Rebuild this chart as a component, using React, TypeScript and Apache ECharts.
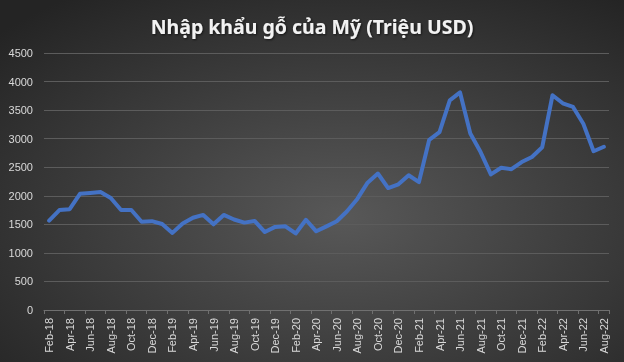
import React, { useEffect, useRef } from "react";
import * as echarts from "echarts";

const monthNames = ["Jan", "Feb", "Mar", "Apr", "May", "Jun", "Jul", "Aug", "Sep", "Oct", "Nov", "Dec"];
const years = [18, 19, 20, 21, 22];

const categories: string[] = [];
years.forEach((y) => {
  monthNames.forEach((m, mi) => {
    if (y === 18 && mi < 1) return;
    if (y === 22 && mi > 7) return;
    categories.push(`${m}-${y}`);
  });
});

const imports2018 = [1565, 1750, 1765, 2035, 2050, 2065, 1960, 1750, 1750, 1545, 1555];
const imports2019 = [1505, 1350, 1515, 1615, 1665, 1500, 1665, 1585, 1530, 1560, 1365, 1455];
const imports2020 = [1465, 1340, 1580, 1378, 1465, 1555, 1730, 1945, 2230, 2390, 2135, 2200];
const imports2021 = [2360, 2240, 2980, 3115, 3670, 3810, 3090, 2765, 2375, 2490, 2465, 2590];
const imports2022 = [2680, 2850, 3760, 3620, 3555, 3260, 2780, 2858];

const values = [...imports2018, ...imports2019, ...imports2020, ...imports2021, ...imports2022];

const titleText = "Nhập khẩu gỗ của Mỹ (Triệu USD)";

export default function App() {
  const ref = useRef<HTMLDivElement>(null);
  useEffect(() => {
    if (!ref.current) return;
    const chart = echarts.init(ref.current, undefined, { renderer: "svg" });
    chart.setOption({
      animation: false,
      backgroundColor: {
        type: "radial",
        x: 0.55,
        y: 0.6,
        r: 0.75,
        colorStops: [
          { offset: 0, color: "#585858" },
          { offset: 1, color: "#242424" },
        ],
      },
      title: {
        text: titleText,
        left: "center",
        top: 11,
        textStyle: {
          color: "#f2f2f2",
          fontSize: 19.5,
          fontWeight: "bold",
          fontFamily: "Noto Sans",
          textShadowColor: "rgba(0,0,0,0.6)",
          textShadowBlur: 2,
          textShadowOffsetX: 1,
          textShadowOffsetY: 1,
        },
      },
      grid: { left: 44, right: 15, top: 53, bottom: 52, containLabel: false },
      xAxis: {
        type: "category",
        data: categories,
        boundaryGap: true,
        axisLine: { show: true, lineStyle: { color: "#707070", width: 1 } },
        axisTick: { show: true, interval: 1, length: 4, lineStyle: { color: "#707070" } },
        axisLabel: {
          interval: 1,
          rotate: 90,
          color: "#d9d9d9",
          fontSize: 11,
          fontFamily: "Liberation Sans",
          margin: 8,
        },
        splitLine: { show: false },
      },
      yAxis: {
        type: "value",
        min: 0,
        max: 4500,
        interval: 500,
        axisLine: { show: false },
        axisTick: { show: false },
        axisLabel: {
          color: "#d9d9d9",
          fontSize: 11,
          fontFamily: "Liberation Sans",
          margin: 11,
          formatter: (v: number) => String(v),
        },
        splitLine: { show: true, lineStyle: { color: "#5c5c5c", width: 1 } },
      },
      series: [
        {
          type: "line",
          data: values,
          symbol: "none",
          smooth: false,
          lineStyle: { color: "#4472C4", width: 4, cap: "round", join: "round" },
        },
      ],
    });
    return () => chart.dispose();
  }, []);
  return (
    <div
      ref={ref}
      style={{ position: "fixed", left: 0, top: 0, width: 624, height: 362 }}
    />
  );
}
